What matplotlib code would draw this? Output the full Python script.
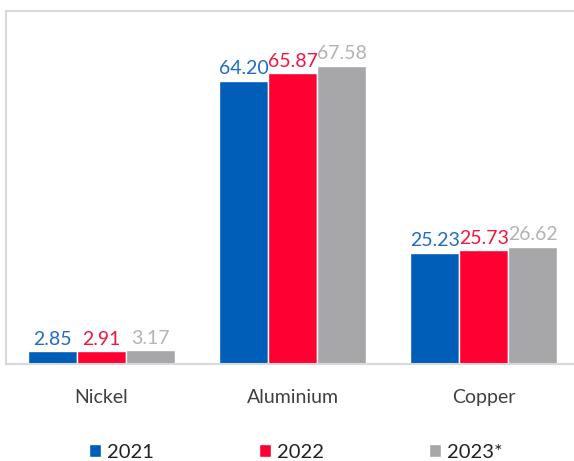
import matplotlib.pyplot as plt
import numpy as np

plt.rcParams['font.family'] = ['Lato', 'DejaVu Sans']

categories = ['Nickel', 'Aluminium', 'Copper']
years = ['2021', '2022', '2023*']
v2021 = [2.85, 64.20, 25.23]
v2022 = [2.91, 65.87, 25.73]
v2023 = [3.17, 67.58, 26.62]

series = [v2021, v2022, v2023]
colors = ['#005EB8', '#FF0033', '#A7A7A9']
label_colors = ['#1F6EC4', '#F2153F', '#B3B3B3']

fig = plt.figure(figsize=(5.74, 4.61), dpi=100)
ax = fig.add_axes([6 / 574, 1 - 364 / 461, 573.5 / 574, 353 / 461])

x = np.arange(len(categories))
w = 0.2565
for i, (vals, c, lc, yr) in enumerate(zip(series, colors, label_colors, years)):
    pos = x + (i - 1) * w
    bars = ax.bar(pos, vals, width=w, color=c, edgecolor='white', linewidth=1, label=yr)
    for b, v in zip(bars, vals):
        ax.annotate(f'{v:.2f}', (b.get_x() + b.get_width() / 2, v), xytext=(0, 2.5),
                    textcoords='offset points', ha='center', va='bottom',
                    color=lc, fontsize=14)

ax.set_xlim(-0.5, 2.5)
ax.set_ylim(0, 80)
ax.set_yticks([])
ax.set_xticks(x)
ax.set_xticklabels(categories, fontsize=14, color='#404040')
ax.tick_params(axis='x', length=0, pad=18)
for s in ['top', 'left', 'bottom']:
    ax.spines[s].set_color('#D9D9D9')
    ax.spines[s].set_linewidth(1.5)
ax.spines['right'].set_visible(False)

ax.legend(loc='upper center', bbox_to_anchor=(0.505, -0.175), ncol=3, frameon=False,
          fontsize=14.5, handlelength=0.6, handleheight=0.6, handletextpad=0.3,
          columnspacing=5.2, labelcolor='#222222')

fig.savefig('out.png', dpi=100)
